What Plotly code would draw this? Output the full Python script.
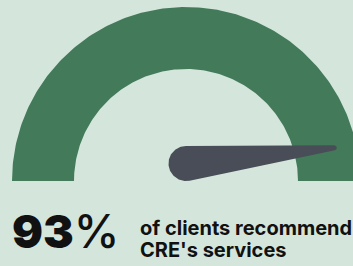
import numpy as np
import plotly.graph_objects as go

# data
value = 93
max_value = 100
headline_number = "93"
headline_unit = "%"
caption_lines = ["of clients recommend", "CRE's services"]

W, H = 353, 266
BG = "rgb(212,230,219)"
GREEN = "rgb(67,123,90)"
NEEDLE = "rgb(72,77,87)"

# gauge geometry (math coords, y up)
cx, cy = 186, 85
r_out, r_in = 174, 112

t = np.linspace(np.pi, 0, 200)
arc_x = np.concatenate([cx + r_out * np.cos(t), cx + r_in * np.cos(t[::-1])])
arc_y = np.concatenate([cy + r_out * np.sin(t), cy + r_in * np.sin(t[::-1])])

# needle
theta = np.pi * (1 - value / max_value)
px, py, r1 = 186, 102.5, 17.5
tip_len, r2 = 152, 2.5
tx, ty = cx + tip_len * np.cos(theta), cy + tip_len * np.sin(theta)
dx, dy = tx - px, ty - py
L = np.hypot(dx, dy)
d = np.arctan2(dy, dx)
a = np.arccos((r1 - r2) / L)
b1 = np.linspace(d + a, d + 2 * np.pi - a, 80)
b2 = np.linspace(d - a, d + a, 30)
nx = np.concatenate([px + r1 * np.cos(b1), tx + r2 * np.cos(b2)])
ny = np.concatenate([py + r1 * np.sin(b1), ty + r2 * np.sin(b2)])

fig = go.Figure()
fig.add_trace(go.Scatter(x=arc_x, y=arc_y, fill="toself", fillcolor=GREEN,
                         line=dict(width=0), mode="lines", hoverinfo="skip"))
fig.add_trace(go.Scatter(x=nx, y=ny, fill="toself", fillcolor=NEEDLE,
                         line=dict(width=0), mode="lines", hoverinfo="skip"))

fig.add_annotation(x=10, y=H - 231, xref="x", yref="y",
                   text=headline_number + "<span style='font-weight:500'>" + headline_unit + "</span>",
                   showarrow=False, xanchor="left", yanchor="middle",
                   font=dict(family="Inter", size=46, color="#111111", weight=900))
for i, line in enumerate(caption_lines):
    fig.add_annotation(x=138, y=H - (228 + 22 * i), xref="x", yref="y",
                       text=line, showarrow=False, xanchor="left", yanchor="middle",
                       font=dict(family="Inter", size=20, color="#111111", weight=700))

fig.update_layout(width=W, height=H, margin=dict(l=0, r=0, t=0, b=0),
                  paper_bgcolor=BG, plot_bgcolor=BG, showlegend=False,
                  xaxis=dict(range=[0, W], visible=False, fixedrange=True),
                  yaxis=dict(range=[0, H], visible=False, fixedrange=True))
fig.write_html("out.html", config={"displayModeBar": False},
               post_script="document.body.style.margin='0';document.body.style.padding='0';document.body.style.overflow='hidden';")
